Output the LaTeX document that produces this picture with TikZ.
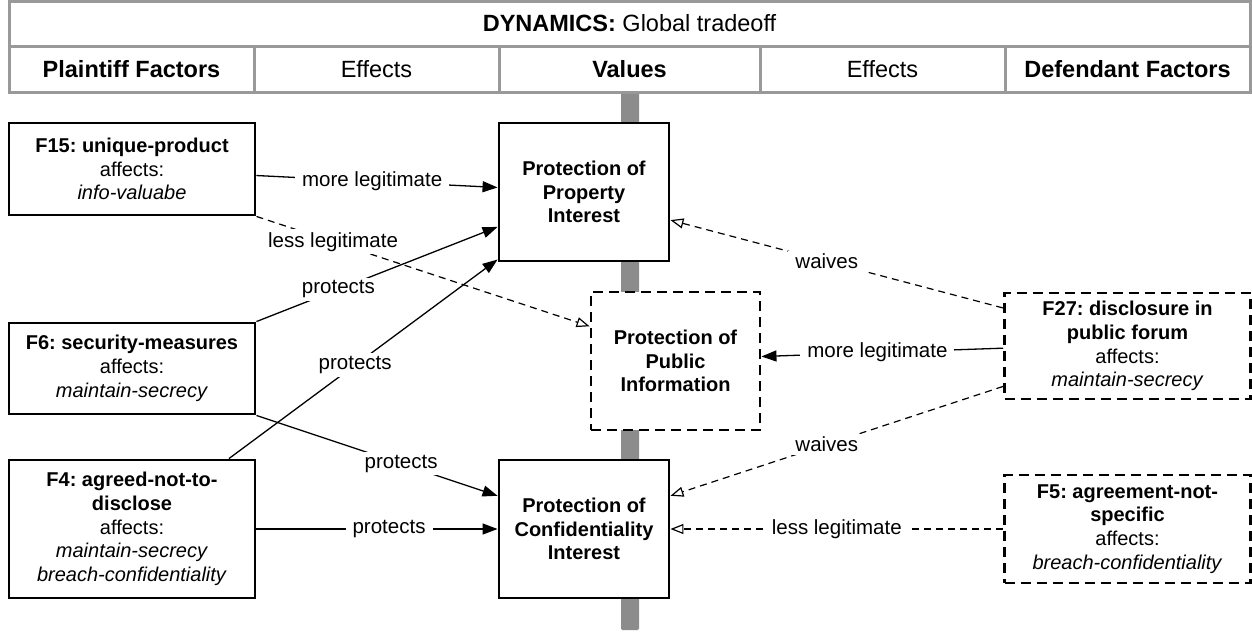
\documentclass[tikz,border=0pt]{standalone}
\usepackage{fontspec}
\setmainfont{Liberation Sans}
\usepackage{tikz}
\usetikzlibrary{arrows.meta}
\frenchspacing
\definecolor{headgray}{gray}{0.6}
\definecolor{bargray}{gray}{0.55}
\tikzset{hcell/.style={draw=headgray, line width=3pt, minimum height=46pt, inner sep=0pt, font=\fontsize{23.5}{27}\selectfont}}
\tikzset{factor/.style={draw=black, fill=white, line width=2.9pt, align=center, inner sep=0pt, minimum width=246pt, font=\fontsize{20}{23.8}\selectfont}}
\tikzset{valuebox/.style={factor, minimum width=170pt, minimum height=138pt}}
\tikzset{weak/.style={dash pattern=on 10pt off 6pt}}
\tikzset{lbl/.style={fill=white, inner xsep=7pt, inner ysep=3pt, font=\fontsize{20.5}{24}\selectfont}}
\tikzset{pro/.style={-{Triangle[length=15pt,width=11pt]}, line width=1.3pt}}
\tikzset{con/.style={-{Triangle[open,length=13pt,width=10pt]}, line width=1.2pt, dash pattern=on 7pt off 5pt}}

\begin{document}
\begin{tikzpicture}[x=1pt, y=-1pt]
		\useasboundingbox (0,0) rectangle (1252,632);
		\fill[bargray, rounded corners=1.5pt] (621,92) rectangle (639,630);
		\node[hcell, minimum width=1241pt, minimum height=45pt] (T) at (629.5,23.5) {\textbf{DYNAMICS:} Global tradeoff};
		\node[hcell, minimum width=245pt] (H1) at (131.5,69) {\textbf{Plaintiff Factors}};
		\node[hcell, minimum width=245pt] (H2) at (376.5,69) {Effects};
		\node[hcell, minimum width=261pt] (H3) at (629.5,69) {\textbf{Values}};
		\node[hcell, minimum width=245pt] (H4) at (882.5,69) {Effects};
		\node[hcell, minimum width=245pt] (H5) at (1127.5,69) {\textbf{Defendant Factors}};
		\node[factor, minimum height=92pt] (F15) at (132,169) {\textbf{F15: unique-product}\\affects:\\\textit{info-valuabe}};
		\node[factor, minimum height=91pt] (F6) at (132,368.5) {\textbf{F6: security-measures}\\affects:\\\textit{maintain-secrecy}};
		\node[factor, minimum height=138pt] (F4) at (132,529) {\textbf{F4: agreed-not-to-}\\\textbf{disclose}\\affects:\\\textit{maintain-secrecy}\\\textit{breach-confidentiality}};
		\node[valuebox] (PI) at (584,192) {\textbf{Protection of}\\\textbf{Property}\\\textbf{Interest}};
		\node[valuebox, weak, minimum width=169pt] (PU) at (675.5,361) {\textbf{Protection of}\\\textbf{Public}\\\textbf{Information}};
		\node[valuebox] (CI) at (584,529) {\textbf{Protection of}\\\textbf{Confidentiality}\\\textbf{Interest}};
		\node[factor, weak, minimum height=106pt] (F27) at (1127.5,346) {\textbf{F27: disclosure in}\\\textbf{public forum}\\affects:\\\textit{maintain-secrecy}};
		\node[factor, weak, minimum height=108pt] (F5) at (1127.5,529) {\textbf{F5: agreement-not-}\\\textbf{specific}\\affects:\\\textit{breach-confidentiality}};
		\path [pro] (F15.-3) edge node[lbl, pos=0.48]{more legitimate} (PI.177);
		\path [con] (F15.south east) edge node[lbl, pos=0.23]{less legitimate} (PU.158);
		\path [pro] (F6.north east) edge node[lbl, pos=0.34]{protects} (PI.202);
		\path [pro] (F4.36) edge node[lbl, pos=0.47]{protects} (PI.218);
		\path [pro] (F6.south east) edge node[lbl, pos=0.6]{protects} (CI.159);
		\path [pro] (F4.east) edge node[lbl, pos=0.55]{protects} (CI.west);
		\path [con] (F27.163) edge node[lbl, pos=0.53]{waives} (PI.-18);
		\path [pro] (F27.181) edge node[lbl, pos=0.52]{more legitimate} (PU.3);
		\path [con] (F27.198) edge node[lbl, pos=0.53]{waives} (CI.21);
		\path [con] (F5.west) edge node[lbl]{less legitimate} (CI.east);
	\end{tikzpicture}
\end{document}
